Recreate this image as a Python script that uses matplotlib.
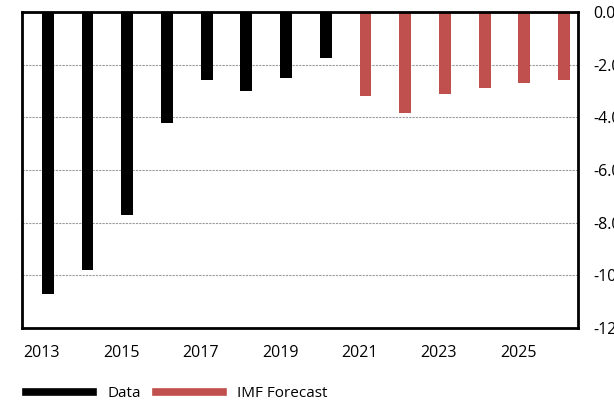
import matplotlib
matplotlib.use("Agg")
import matplotlib.pyplot as plt
from matplotlib.lines import Line2D
import numpy as np

plt.rcParams["font.family"] = ["Open Sans", "DejaVu Sans"]

# Values (balance, % of GDP)
years_data = [2013, 2014, 2015, 2016, 2017, 2018, 2019, 2020]
values_data = [-10.7, -9.8, -7.7, -4.2, -2.6, -3.0, -2.5, -1.75]
years_forecast = [2021, 2022, 2023, 2024, 2025, 2026]
values_forecast = [-3.2, -3.85, -3.1, -2.9, -2.7, -2.6]
tick_years = [2013, 2015, 2017, 2019, 2021, 2023, 2025]
y_ticks = [0.0, -2.0, -4.0, -6.0, -8.0, -10.0, -12.0]

BLACK = "#000000"
RED = "#C0504D"
FIRST_YEAR = years_data[0]
OFFSET = 0.15
WIDTH = 0.3
FS = 11.5

fig = plt.figure(figsize=(6.14, 4.01), dpi=100)
ax = fig.add_axes([0.0358, 0.182, 0.9055, 0.788])

x_data = np.array(years_data) - FIRST_YEAR + OFFSET
x_fc = np.array(years_forecast) - FIRST_YEAR + OFFSET
ax.bar(x_data, values_data, width=WIDTH, color=BLACK, zorder=3)
ax.bar(x_fc, values_forecast, width=WIDTH, color=RED, zorder=3)

ax.set_xlim(-0.5, 13.5)
ax.set_ylim(-12, 0)
ax.set_xticks(np.array(tick_years) - FIRST_YEAR)
ax.set_xticklabels([str(y) for y in tick_years], fontsize=FS)
ax.tick_params(axis="x", length=0, pad=12)

# y labels sit on the right and run off the canvas, as in the reference
ax.yaxis.tick_right()
ax.set_yticks(y_ticks)
ax.set_yticklabels([f"{v:.1f}" for v in y_ticks], fontsize=FS)
ax.tick_params(axis="y", length=0, pad=11)

ax.grid(axis="y", color="#9a9a9a", linestyle=(0, (2, 1)), linewidth=0.8, zorder=0)
for spine in ax.spines.values():
    spine.set_linewidth(2)
    spine.set_color("black")
    spine.set_zorder(4)

handles = [
    Line2D([0], [0], color=BLACK, linewidth=5.5),
    Line2D([0], [0], color=RED, linewidth=5.5),
]
fig.legend(
    handles,
    ["Data", "IMF Forecast"],
    loc="lower left",
    bbox_to_anchor=(0.02, -0.035),
    ncol=2,
    frameon=False,
    fontsize=11,
    handlelength=4.4,
    handletextpad=0.9,
    columnspacing=1.0,
)

fig.savefig("out.png", dpi=100)
